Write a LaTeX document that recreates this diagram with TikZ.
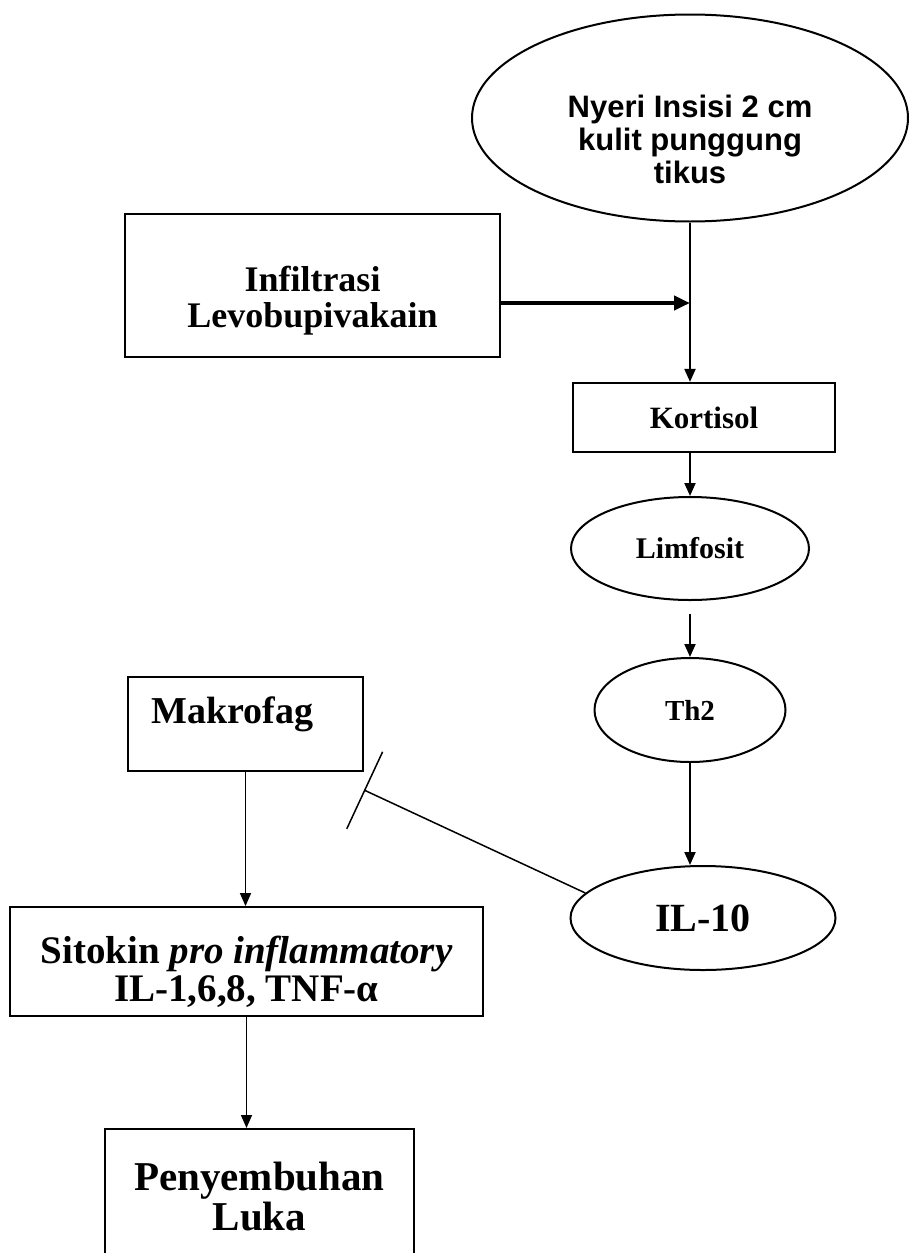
\documentclass[tikz,border=0pt]{standalone}
\usepackage{fontspec}
\setmainfont{Liberation Serif}
\newfontfamily\arialfont{Liberation Sans}
\usetikzlibrary{shapes.geometric,arrows.meta}

\begin{document}
\begin{tikzpicture}[x=1pt,y=-1pt,
  box/.style={draw,line width=2.2pt,rectangle,align=center,inner sep=0pt},
  oval/.style={draw,line width=2pt,ellipse,align=center,inner sep=0pt},
  arr/.style={line width=2pt,-{Triangle[length=13pt,width=11pt]}},
  thinarr/.style={line width=1.4pt,-{Triangle[length=13pt,width=11pt]}}]
  \useasboundingbox (0,0) rectangle (915,1253);
  % right column
  \node[oval,minimum width=436pt,minimum height=207pt,
    font=\arialfont\bfseries\fontsize{31}{33}\selectfont] (nyeri) at (690,118)
    {\rule{0pt}{66pt}Nyeri Insisi 2 cm\\kulit punggung\\tikus};
  \node[box,line width=2.6pt,minimum width=375pt,minimum height=143pt,
    font=\bfseries\fontsize{36}{36}\selectfont] (infil) at (312.5,285.5)
    {\rule{0pt}{56pt}Infiltrasi\\Levobupivakain};
  \node[box,minimum width=262pt,minimum height=69pt,
    font=\bfseries\fontsize{31}{31}\selectfont] (kort) at (704,417.5) {Kortisol};
  \node[oval,minimum width=238pt,minimum height=103pt,
    font=\bfseries\fontsize{30}{30}\selectfont] (lim) at (690,548.5) {Limfosit};
  \node[oval,minimum width=191pt,minimum height=104pt,
    font=\bfseries\fontsize{29}{29}\selectfont] (th) at (690,710) {Th2};
  \node[oval,minimum width=265pt,minimum height=104pt,
    font=\bfseries\fontsize{40}{40}\selectfont] (il) at (703,918) {IL-10};
  % left column
  \node[box,line width=1.6pt,minimum width=235pt,minimum height=94pt,
    font=\bfseries\fontsize{38}{38}\selectfont] (mak) at (245.5,724)
    {Makrofag\rule[-28pt]{26pt}{0pt}};
  \node[box,line width=1.8pt,minimum width=473pt,minimum height=109pt,
    font=\bfseries\fontsize{39}{38}\selectfont] (sit) at (246.5,961.5)
    {\rule{0pt}{48pt}Sitokin \textit{pro inflammatory}\\IL-1,6,8, TNF-α};
  \node[box,minimum width=309pt,minimum height=134pt,anchor=north,
    font=\bfseries\fontsize{41}{40}\selectfont] (peny) at (259.5,1128)
    {Penyembuhan\\Luka};
  \coordinate (blk) at (364,790);

  \draw[arr] (nyeri.south) -- (nyeri.south |- kort.north);
  \draw[line width=4pt,-{Triangle[length=16pt,width=14pt]}]
    ([yshift=-17.5pt]infil.east) -- ([yshift=-17.5pt]infil.east -| nyeri.south);
  \draw[arr] (kort.south -| lim.north) -- (lim.north);
  \draw[arr,shorten <=13pt] (lim.south) -- (th.north);
  \draw[arr] (th.south) -- (th.south |- il.north);
  \draw[line width=1.5pt,-{Bar[width=85pt]}] (il.168) -- (blk);
  \draw[thinarr] (mak.south) -- (mak.south |- sit.north);
  \draw[thinarr] (sit.south) -- (sit.south |- peny.north);
\end{tikzpicture}
\end{document}
